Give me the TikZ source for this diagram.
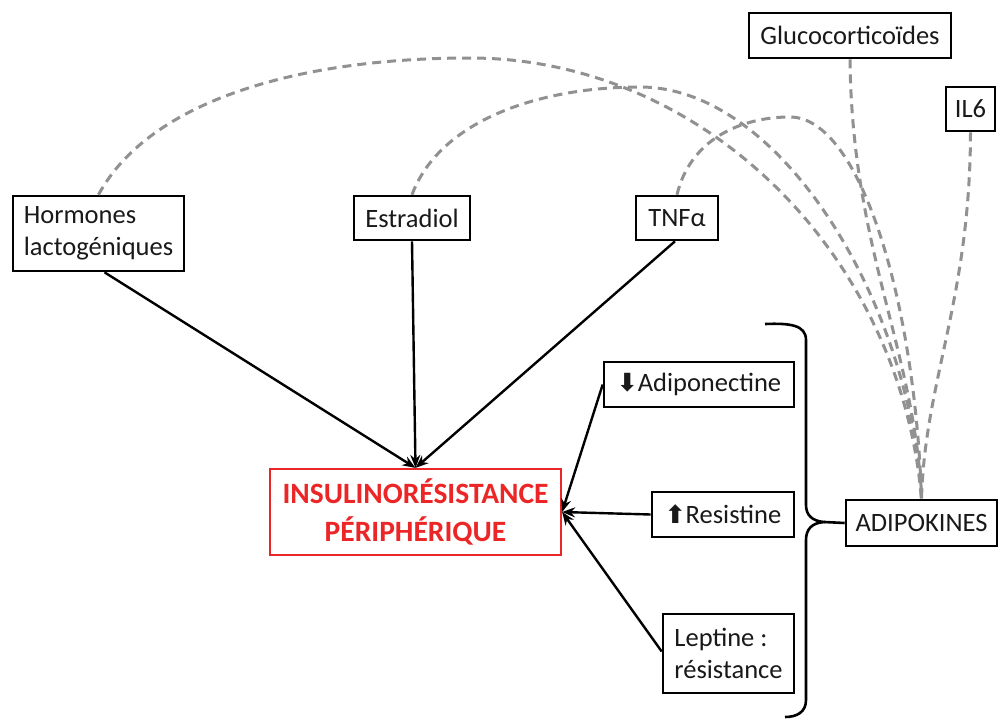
\documentclass[tikz,border=0pt]{standalone}
\usepackage{fontspec}
\setmainfont{Carlito}
\newfontfamily\symfont{DejaVu Sans}
\usetikzlibrary{arrows.meta}
\definecolor{myred}{RGB}{236,38,38}
\definecolor{dashgray}{RGB}{145,145,145}
\definecolor{txt}{RGB}{25,25,25}
\begin{document}
\begin{tikzpicture}[x=1pt,y=-1pt,
  box/.style={draw=black, line width=2.6pt, font=\fontsize{26.5}{32}\selectfont, inner sep=0pt, align=left, text=txt},
  redbox/.style={draw=myred, line width=2.2pt, font=\bfseries\fontsize{29.5}{38}\selectfont, inner sep=0pt, align=center, text=myred},
  arr/.style={line width=2.4pt, -{Stealth[length=13pt,width=10pt]}},
  dsh/.style={draw=dashgray, line width=3pt, dash pattern=on 9pt off 6pt},
  sym/.style={}
]
\useasboundingbox (0,0) rectangle (1004,720);
\fill[white] (0,0) rectangle (1004,720);

\node[box, minimum width=171pt, minimum height=75pt] (horm) at (98.5,233.5) {Hormones\\lactogéniques};
\node[box, minimum width=116pt, minimum height=44pt] (estr) at (412,218) {Estradiol};
\node[box, minimum width=82pt, minimum height=44pt] (tnf) at (677,218) {TNFα};
\node[box, minimum width=202pt, minimum height=45pt] (gluco) at (850,35.5) {Glucocorticoïdes};
\node[box, minimum width=49pt, minimum height=44pt] (il6) at (970.5,109) {IL6};
\node[box, minimum width=190pt, minimum height=45pt] (adipo) at (699,384.5) {{\symfont\bfseries\fontsize{25}{26}\selectfont ⬇}Adiponectine};
\node[box, minimum width=142pt, minimum height=45pt] (resis) at (723,514.5) {{\symfont\bfseries\fontsize{25}{26}\selectfont ⬆}Resistine};
\node[box, minimum width=131pt, minimum height=79pt] (lept) at (728.5,653.5) {Leptine :\\résistance};
\node[box, minimum width=151pt, minimum height=46pt] (adk) at (921.5,523) {ADIPOKINES};
\node[redbox, minimum width=291pt, minimum height=86pt] (ir) at (415.5,512) {INSULINORÉSISTANCE\\PÉRIPHÉRIQUE};

% arrows to the red box
\draw[arr] ([xshift=6pt]horm.south) -- (ir.north);
\draw[arr] (estr.south) -- (ir.north);
\draw[arr] ([xshift=-2pt]tnf.south) -- (ir.north);
\draw[arr] (adipo.west) -- (ir.east);
\draw[arr] (resis.west) -- (ir.east);
\draw[arr] ([yshift=2pt]lept.west) -- (ir.east);

% brace
\coordinate (btip) at (824,522);
\draw[line width=2.6pt] (765,324) .. controls (790,323) and (806,325) .. (806,340) -- (806,505) .. controls (806,515) and (812,521) .. (btip) .. controls (812,523) and (806,529) .. (806,540) -- (806,700) .. controls (806,712) and (797,717) .. (785,717);
\draw[line width=2.6pt] (btip) -- (adk.west);

% dashed influences
\draw[dsh] (horm.north) .. controls (150,100) and (300,58) .. (470,58) .. controls (700,58) and (900,250) .. (adk.north);
\draw[dsh] (estr.north) .. controls (440,120) and (540,87) .. (640,87) .. controls (780,87) and (910,300) .. (adk.north);
\draw[dsh] (tnf.north) .. controls (690,140) and (740,117) .. (790,117) .. controls (860,117) and (915,300) .. (adk.north);
\draw[dsh] (gluco.south) .. controls (852,250) and (915,350) .. (adk.north);
\draw[dsh] (il6.south) .. controls (970,300) and (925,380) .. (adk.north);
\end{tikzpicture}
\end{document}
